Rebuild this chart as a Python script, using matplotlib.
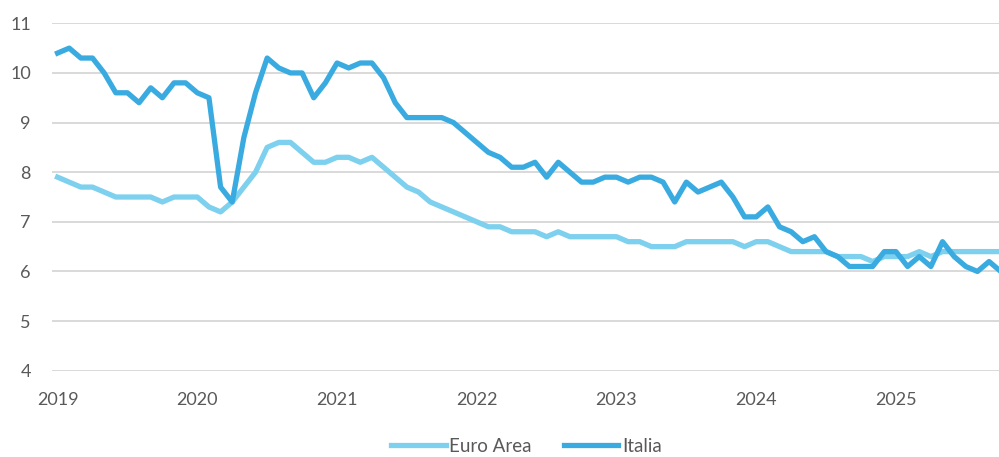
#!/usr/bin/env python3
"""Unemployment rate: Italia vs Euro Area, monthly 2019-2025."""

import matplotlib

matplotlib.use("Agg")
import matplotlib.pyplot as plt

YEAR_LABELS = ["2019", "2020", "2021", "2022", "2023", "2024", "2025"]

# monthly values, Jan 2019 onwards
EURO_AREA = [
    7.9, 7.8, 7.7, 7.7, 7.6, 7.5, 7.5, 7.5, 7.5, 7.4, 7.5, 7.5,
    7.5, 7.3, 7.2, 7.4, 7.7, 8.0, 8.5, 8.6, 8.6, 8.4, 8.2, 8.2,
    8.3, 8.3, 8.2, 8.3, 8.1, 7.9, 7.7, 7.6, 7.4, 7.3, 7.2, 7.1,
    7.0, 6.9, 6.9, 6.8, 6.8, 6.8, 6.7, 6.8, 6.7, 6.7, 6.7, 6.7,
    6.7, 6.6, 6.6, 6.5, 6.5, 6.5, 6.6, 6.6, 6.6, 6.6, 6.6, 6.5,
    6.6, 6.6, 6.5, 6.4, 6.4, 6.4, 6.4, 6.3, 6.3, 6.3, 6.2, 6.3,
    6.3, 6.3, 6.4, 6.3, 6.4, 6.4, 6.4, 6.4, 6.4, 6.4,
]
ITALIA = [
    10.4, 10.5, 10.3, 10.3, 10.0, 9.6, 9.6, 9.4, 9.7, 9.5, 9.8, 9.8,
    9.6, 9.5, 7.7, 7.4, 8.7, 9.6, 10.3, 10.1, 10.0, 10.0, 9.5, 9.8,
    10.2, 10.1, 10.2, 10.2, 9.9, 9.4, 9.1, 9.1, 9.1, 9.1, 9.0, 8.8,
    8.6, 8.4, 8.3, 8.1, 8.1, 8.2, 7.9, 8.2, 8.0, 7.8, 7.8, 7.9,
    7.9, 7.8, 7.9, 7.9, 7.8, 7.4, 7.8, 7.6, 7.7, 7.8, 7.5, 7.1,
    7.1, 7.3, 6.9, 6.8, 6.6, 6.7, 6.4, 6.3, 6.1, 6.1, 6.1, 6.4,
    6.4, 6.1, 6.3, 6.1, 6.6, 6.3, 6.1, 6.0, 6.2, 6.0,
]

EURO_COLOR = "#7dd0ee"
ITALIA_COLOR = "#3aabe0"
TEXT_COLOR = "#595959"
GRID_COLOR = "#d9d9d9"


def main() -> None:
    plt.rcParams["font.family"] = ["Lato", "DejaVu Sans"]
    fig = plt.figure(figsize=(9.99, 4.57), dpi=100)
    ax = fig.add_axes([0.0518, 0.1888, 0.9482, 0.7602])

    months = list(range(len(ITALIA)))
    ax.plot(months, EURO_AREA, color=EURO_COLOR, linewidth=3.8, label="Euro Area")
    ax.plot(months, ITALIA, color=ITALIA_COLOR, linewidth=3.8, label="Italia")

    ax.set_xlim(-0.5, 80.85)
    ax.set_ylim(4, 11)
    ax.set_yticks(range(4, 12))
    ax.set_xticks(range(0, 12 * len(YEAR_LABELS), 12))
    ax.set_xticklabels(YEAR_LABELS)

    ax.grid(axis="y", color=GRID_COLOR, linewidth=1.4)
    ax.set_axisbelow(True)
    for spine in ax.spines.values():
        spine.set_visible(False)
    ax.tick_params(axis="both", length=0, labelsize=13, labelcolor=TEXT_COLOR)
    ax.tick_params(axis="x", pad=15)
    ax.tick_params(axis="y", pad=15)

    fig.legend(
        loc="center",
        bbox_to_anchor=(0.527, 0.024),
        ncol=2,
        frameon=False,
        fontsize=13.5,
        labelcolor=TEXT_COLOR,
        handlelength=2.9,
        handletextpad=0.2,
        columnspacing=1.7,
    )

    fig.savefig("out.png", dpi=100)
    plt.close(fig)


if __name__ == "__main__":
    main()
